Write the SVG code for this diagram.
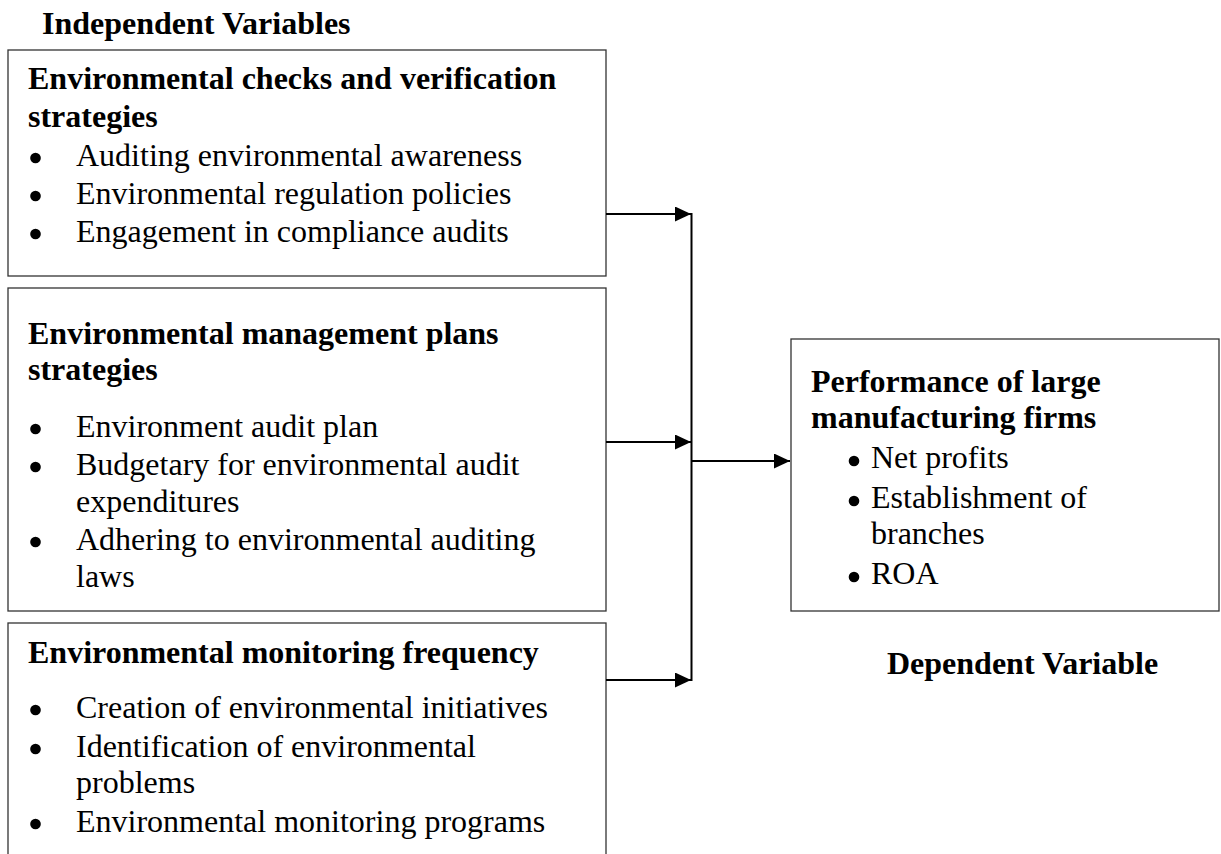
<svg xmlns="http://www.w3.org/2000/svg" width="1221" height="854" viewBox="0 0 1221 854">
  <style>
    .box { fill: #ffffff; stroke: #333333; stroke-width: 1.3; }
    .head { font-family: "Liberation Serif", "Times New Roman", serif; font-size: 32px; font-weight: bold; fill: #000000; }
    .item { font-family: "Liberation Serif", "Times New Roman", serif; font-size: 32px; fill: #000000; }
    .dot { fill: #000000; }
    .wire { fill: none; stroke: #000000; stroke-width: 2; }
  </style>
  <defs>
    <marker id="tri" markerUnits="userSpaceOnUse" markerWidth="16" markerHeight="16" refX="16" refY="7.5" orient="auto">
      <path d="M0,0 L16,7.5 L0,15 Z" fill="#000000"/>
    </marker>
  </defs>
  <rect width="1221" height="854" fill="#ffffff"/>

  <text class="head" x="42" y="34">Independent Variables</text>

  <g id="checks-verification">
    <rect class="box" x="8" y="50" width="598" height="226"/>
    <text class="head" x="28" y="89">Environmental checks and verification</text>
    <text class="head" x="28" y="127">strategies</text>
    <circle class="dot" cx="35.5" cy="158" r="5.3"/>
    <text class="item" x="76" y="166">Auditing environmental awareness</text>
    <circle class="dot" cx="35.5" cy="196" r="5.3"/>
    <text class="item" x="76" y="204">Environmental regulation policies</text>
    <circle class="dot" cx="35.5" cy="234" r="5.3"/>
    <text class="item" x="76" y="242">Engagement in compliance audits</text>
  </g>

  <g id="management-plans">
    <rect class="box" x="8" y="288" width="598" height="323"/>
    <text class="head" x="28" y="344">Environmental management plans</text>
    <text class="head" x="28" y="380">strategies</text>
    <circle class="dot" cx="35.5" cy="429" r="5.3"/>
    <text class="item" x="76" y="437">Environment audit plan</text>
    <circle class="dot" cx="35.5" cy="467" r="5.3"/>
    <text class="item" x="76" y="475">Budgetary for environmental audit</text>
    <text class="item" x="76" y="512">expenditures</text>
    <circle class="dot" cx="35.5" cy="542" r="5.3"/>
    <text class="item" x="76" y="550">Adhering to environmental auditing</text>
    <text class="item" x="76" y="587">laws</text>
  </g>

  <g id="monitoring-frequency">
    <rect class="box" x="8" y="623" width="598" height="260"/>
    <text class="head" x="28" y="663">Environmental monitoring frequency</text>
    <circle class="dot" cx="35.5" cy="710" r="5.3"/>
    <text class="item" x="76" y="718">Creation of environmental initiatives</text>
    <circle class="dot" cx="35.5" cy="749" r="5.3"/>
    <text class="item" x="76" y="757">Identification of environmental</text>
    <text class="item" x="76" y="793">problems</text>
    <circle class="dot" cx="35.5" cy="824" r="5.3"/>
    <text class="item" x="76" y="832">Environmental monitoring programs</text>
  </g>

  <g id="firm-performance">
    <rect class="box" x="791" y="339" width="428" height="272"/>
    <text class="head" x="811" y="392">Performance of large</text>
    <text class="head" x="811" y="428">manufacturing firms</text>
    <circle class="dot" cx="854" cy="461" r="5.3"/>
    <text class="item" x="871" y="468">Net profits</text>
    <circle class="dot" cx="854" cy="501" r="5.3"/>
    <text class="item" x="871" y="508">Establishment of</text>
    <text class="item" x="871" y="544">branches</text>
    <circle class="dot" cx="854" cy="577" r="5.3"/>
    <text class="item" x="871" y="584">ROA</text>
  </g>

  <text class="head" x="887" y="674">Dependent Variable</text>

  <g id="connectors">
    <path class="wire" d="M606,214 H691" marker-end="url(#tri)"/>
    <path class="wire" d="M606,442 H691" marker-end="url(#tri)"/>
    <path class="wire" d="M606,680 H691" marker-end="url(#tri)"/>
    <path class="wire" d="M691.5,213 V681"/>
    <path class="wire" d="M692,461 H790" marker-end="url(#tri)"/>
  </g>
</svg>
